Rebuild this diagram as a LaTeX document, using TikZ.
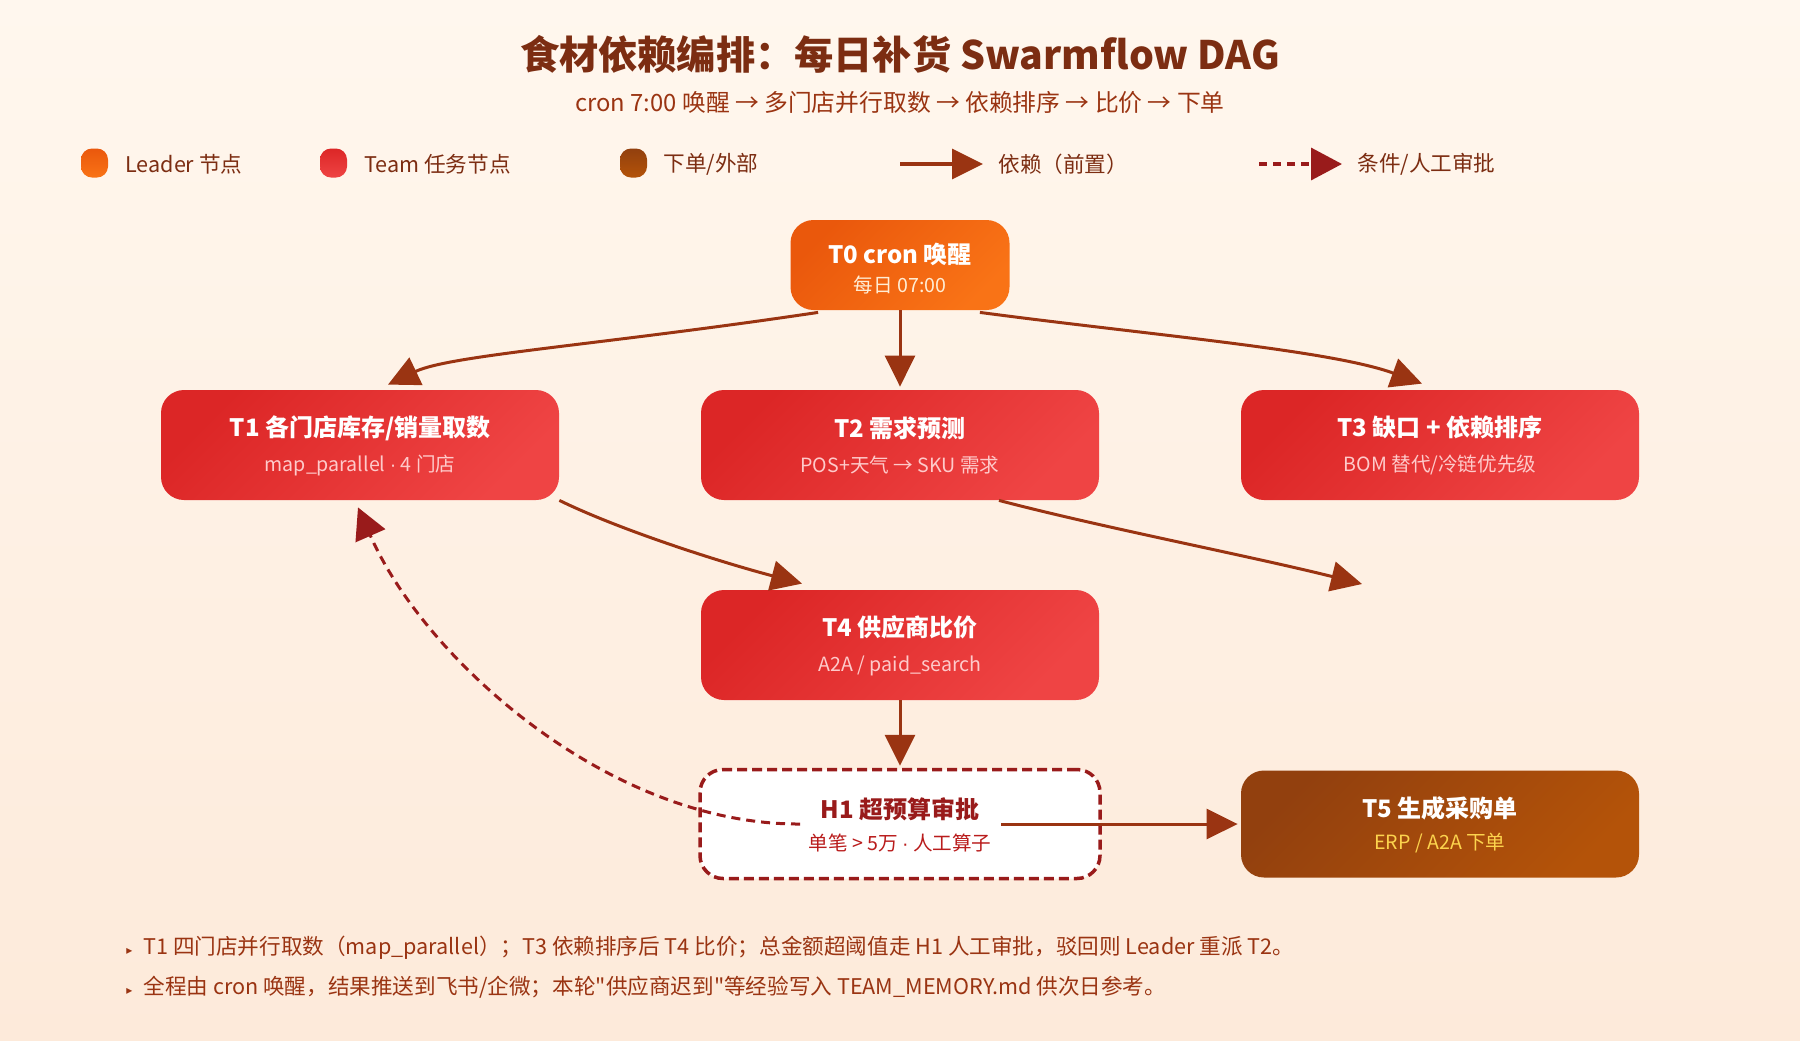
\documentclass[tikz,border=0pt]{standalone}
\usepackage{fontspec}
\setmainfont{Noto Sans CJK SC}[Ligatures=TeXOff]
\newfontfamily\symfont{DejaVu Sans}
\newfontfamily\latinfont{Liberation Sans}
\usepackage{xcolor}
\usetikzlibrary{positioning,calc,arrows.meta}

\definecolor{bgtop}{HTML}{FFF7EE}
\definecolor{bgbot}{HTML}{FDEADA}
\definecolor{ink}{HTML}{7C2D12}
\definecolor{inksoft}{HTML}{9A3412}
\definecolor{depc}{HTML}{9A3412}
\definecolor{condc}{HTML}{991B1B}
\definecolor{orangeA}{HTML}{EA580C}
\definecolor{orangeB}{HTML}{F97316}
\definecolor{redA}{HTML}{DC2626}
\definecolor{redB}{HTML}{EF4444}
\definecolor{brownA}{HTML}{92400E}
\definecolor{brownB}{HTML}{B45309}
\definecolor{subleader}{HTML}{FFEDD5}
\definecolor{subteam}{HTML}{FECACA}
\definecolor{subext}{HTML}{FCD34D}
\definecolor{subgate}{HTML}{B91C1C}

\newcommand{\nodetitle}[2][11pt]{{\fontsize{12}{14}\selectfont\bfseries\rule{0pt}{#1}#2}}
\newcommand{\nodesub}[2]{{\color{#1}\fontsize{9.8}{11}\selectfont #2}}
\newcommand{\mdot}{{\latinfont ·}}

\begin{document}
\begin{tikzpicture}[
    x=0.5pt, y=-0.5pt,
    every node/.style={inner sep=0pt, font=\fontsize{9}{11}\selectfont},
    box/.style={rounded corners=11.5pt, minimum width=199pt, minimum height=55pt,
                align=center, text=white},
    leader/.style={box, minimum width=109.5pt, minimum height=45pt,
                   top color=orangeA, bottom color=orangeB, shading angle=45},
    team/.style={box, top color=redA, bottom color=redB, shading angle=45},
    ext/.style={box, minimum height=53.5pt,
                top color=brownA, bottom color=brownB, shading angle=45},
    gate/.style={box, minimum width=200pt, minimum height=54.5pt, fill=white,
                 draw=condc, line width=1.75pt, dash pattern=on 5pt off 2.5pt, text=condc},
    swatch/.style={minimum width=13.5pt, minimum height=14.5pt, rounded corners=5.5pt},
    lgtext/.style={anchor=west, text=ink, font=\fontsize{10.8}{13}\selectfont},
    dep/.style={draw=depc, line width=1.5pt, -{Triangle[length=15.5pt,width=15pt]}},
    cond/.style={draw=condc, line width=1.5pt, dash pattern=on 4.5pt off 3pt,
                 -{Triangle[length=15.5pt,width=16pt]}},
]

% background and page size
\shade[top color=bgtop, bottom color=bgbot] (0,0) rectangle (1800,1040);
\useasboundingbox (0,0) rectangle (1800,1040);

% title
\node[text=ink, font=\fontsize{19.6}{23}\selectfont\bfseries] (title) at (900,54)
    {食材依赖编排：每日补货 Swarmflow DAG};
\node[text=inksoft, font=\fontsize{11.9}{14}\selectfont] (subtitle) at (900,102)
    {cron 7:00 唤醒 → 多门店并行取数 → 依赖排序 → 比价 → 下单};

% legend
\node[swatch, top color=orangeA, bottom color=orangeB] (lgLeader) at (94.5,163) {};
\node[lgtext] (lgLeaderT) at (125,164) {Leader 节点};
\node[swatch, top color=redA, bottom color=redB] (lgTeam) at (333.5,163) {};
\node[lgtext] (lgTeamT) at (364,164) {Team 任务节点};
\node[swatch, top color=brownA, bottom color=brownB] (lgExt) at (633.5,163) {};
\node[lgtext] (lgExtT) at (663,164) {下单/外部};
\coordinate (lgDepA) at (900,164);
\coordinate (lgDepB) at (983,164);
\draw[dep, line width=1.75pt] (lgDepA) -- (lgDepB);
\node[lgtext] (lgDepT) at (998,164) {依赖（前置）};
\coordinate (lgCondA) at (1259,164);
\coordinate (lgCondB) at (1342,164);
\draw[cond, line width=1.75pt, dash pattern=on 4pt off 3pt] (lgCondA) -- (lgCondB);
\node[lgtext] (lgCondT) at (1357,164) {条件/人工审批};

% task nodes
\node[leader] (t0) at (900,265)
    {\nodetitle[13.5pt]{T0 cron 唤醒}\\[3.5pt]\nodesub{subleader}{每日 07:00}};
\node[team] (t1) at (360,445)
    {\nodetitle{T1 各门店库存/销量取数}\\[6.4pt]\nodesub{subteam}{map\_parallel \mdot{} 4 门店}};
\node[team] (t2) at (900,445)
    {\nodetitle{T2 需求预测}\\[6.4pt]\nodesub{subteam}{POS+天气 → SKU 需求}};
\node[team] (t3) at (1440,445)
    {\nodetitle{T3 缺口 + 依赖排序}\\[6.4pt]\nodesub{subteam}{BOM 替代/冷链优先级}};
\node[team] (t4) at (900,645)
    {\nodetitle{T4 供应商比价}\\[6.4pt]\nodesub{subteam}{A2A / paid\_search}};
\node[gate] (h1) at (900,824)
    {\nodetitle{H1 超预算审批}\\[5pt]\nodesub{subgate}{单笔 > 5万 \mdot{} 人工算子}};
\node[ext] (t5) at (1440,824)
    {\nodetitle{T5 生成采购单}\\[5pt]\nodesub{subext}{ERP / A2A 下单}};

% dependencies
\draw[dep] ($(t0.south west)+(28,2)$) .. controls (600,345) and (450,355) .. ($(t1.north)+(28,-5)$);
\draw[dep] (t0.south) -- ($(t2.north)+(0,-3)$);
\draw[dep] ($(t0.south east)+(-30,2)$) .. controls (1150,335) and (1330,350) .. ($(t3.north)+(-18,-6)$);
\draw[dep] (t1.south east) .. controls (620,530) and (720,562) .. ($(t4.north)+(-98,-6)$);
\coordinate (t2free) at (1362,584);
\draw[dep] ($(t2.south)+(99,0)$) .. controls (1100,527) and (1250,556) .. (t2free);
\draw[dep] (t4.south) -- ($(h1.north)+(0,-2)$);
\draw[dep] ($(h1.center)+(101,0)$) -- ($(t5.west)+(-3,0)$);

% reject path back to T1
\draw[cond] ($(h1.center)+(-100,0)$) .. controls (610,825) and (425,660) .. ($(t1.south)+(-2,7)$);

% notes
\node[anchor=west, text=inksoft, font=\fontsize{10.8}{13}\selectfont] (note1) at (126,948)
    {{\symfont\fontsize{6}{7}\selectfont ▸}\hspace{5.5pt}T1 四门店并行取数（map\_parallel）；T3 依赖排序后 T4 比价；总金额超阈值走 H1 人工审批，驳回则 Leader 重派 T2。};
\node[anchor=west, text=inksoft, font=\fontsize{10.8}{13}\selectfont] (note2) at (126,987)
    {{\symfont\fontsize{6}{7}\selectfont ▸}\hspace{5.5pt}全程由 cron 唤醒，结果推送到飞书/企微；本轮"供应商迟到"等经验写入 TEAM\_MEMORY.md 供次日参考。};

\end{tikzpicture}
\end{document}
